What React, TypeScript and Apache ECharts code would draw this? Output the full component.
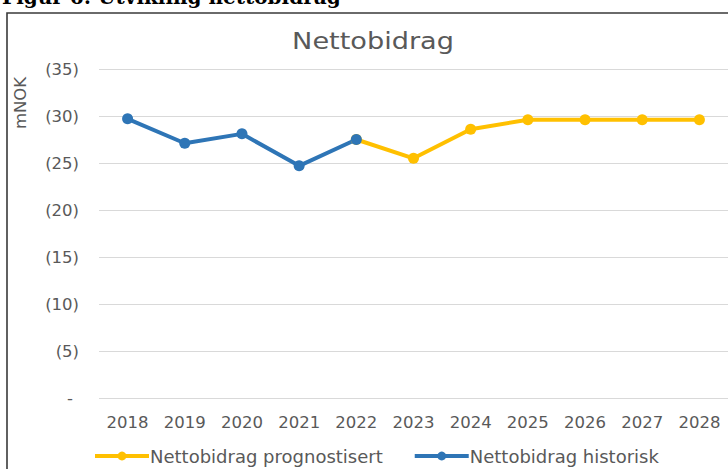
import React, { useEffect, useRef } from "react";
import * as echarts from "echarts";

const years = ["2018", "2019", "2020", "2021", "2022", "2023", "2024", "2025", "2026", "2027", "2028"];
const historisk = [29.7, 27.1, 28.1, 24.7, 27.5, null, null, null, null, null, null];
const prognostisert = [null, null, null, null, 27.5, 25.5, 28.6, 29.6, 29.6, 29.6, 29.6];
const yTicks = [0, 5, 10, 15, 20, 25, 30, 35];

const FONT = "DejaVu Sans";
const GREY = "#595959";

export default function App() {
  const ref = useRef<HTMLDivElement>(null);
  useEffect(() => {
    if (!ref.current) return;
    const chart = echarts.init(ref.current, null, { renderer: "svg" });
    chart.setOption({
      animation: false,
      backgroundColor: "#ffffff",
      grid: { left: 99, right: -5, top: 69, bottom: 71, containLabel: false },
      graphic: [
        {
          type: "rect",
          shape: { x: 7, y: 13, width: 900, height: 600 },
          style: { fill: "none", stroke: "#3a3a3a", lineWidth: 1.6 },
          silent: true,
        },
        {
          type: "text",
          x: 2,
          y: 7,
          style: {
            text: "Figur 6: Utvikling nettobidrag",
            font: "bold 20px 'DejaVu Serif'",
            fill: "#000000",
            verticalAlign: "bottom",
            align: "left",
          },
        },
        {
          type: "text",
          x: 373,
          y: 41,
          scaleX: 1.18,
          style: {
            text: "Nettobidrag",
            font: `23px '${FONT}'`,
            fill: GREY,
            align: "center",
            verticalAlign: "middle",
          },
        },
        {
          type: "text",
          x: 20,
          y: 103,
          rotation: Math.PI / 2,
          style: {
            text: "mNOK",
            font: `16.5px '${FONT}'`,
            fill: GREY,
            align: "center",
            verticalAlign: "middle",
          },
        },
      ],
      legend: {
        left: 88,
        top: 442,
        itemWidth: 54,
        itemHeight: 11,
        itemGap: 30,
        lineStyle: { width: 4 },
        textStyle: { fontFamily: FONT, fontSize: 18, color: GREY, padding: [0, 0, 0, -4] },
      },
      xAxis: {
        type: "category",
        data: years,
        boundaryGap: true,
        axisLine: { show: false },
        axisTick: { show: false },
        axisLabel: { fontFamily: FONT, fontSize: 16.5, color: GREY, margin: 16 },
        splitLine: { show: false },
      },
      yAxis: {
        type: "value",
        min: yTicks[0],
        max: yTicks[yTicks.length - 1],
        interval: 5,
        axisLine: { show: false },
        axisTick: { show: false },
        axisLabel: {
          fontFamily: FONT,
          fontSize: 16.5,
          color: GREY,
          margin: 20,
          formatter: (v: number) => (v === 0 ? "{d|-}" : `(${v})`),
          rich: { d: { fontFamily: FONT, fontSize: 16.5, color: GREY, padding: [0, 6, 0, 0] } },
        },
        splitLine: { lineStyle: { color: "#d9d9d9", width: 1 } },
      },
      series: [
        {
          name: "Nettobidrag prognostisert",
          type: "line",
          data: prognostisert,
          connectNulls: false,
          symbol: "circle",
          symbolSize: 11,
          lineStyle: { color: "#FFC000", width: 4 },
          itemStyle: { color: "#FFC000" },
        },
        {
          name: "Nettobidrag historisk",
          type: "line",
          data: historisk,
          connectNulls: false,
          symbol: "circle",
          symbolSize: 11,
          lineStyle: { color: "#2E75B6", width: 4 },
          itemStyle: { color: "#2E75B6" },
        },
      ],
    });
    return () => chart.dispose();
  }, []);
  return (
    <div
      ref={ref}
      style={{ position: "fixed", left: 0, top: 0, width: 728, height: 469, background: "#fff" }}
    />
  );
}
